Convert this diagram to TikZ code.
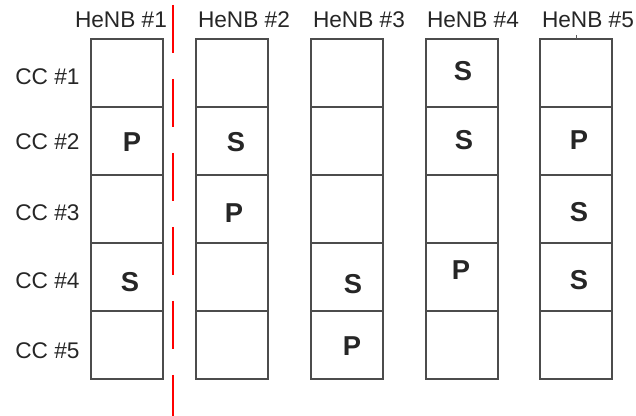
\documentclass[tikz,border=0pt]{standalone}
\usepackage{fontspec}
\setmainfont{Liberation Sans}
\usetikzlibrary{positioning}

\begin{document}
\begin{tikzpicture}[
  x=0.75pt, y=-0.75pt,
  cell/.style={
    rectangle, draw=black!70, line width=0.8pt, fill=white,
    minimum width=54pt, minimum height=51pt,
    inner sep=0pt, outer sep=0pt
  },
  head/.style={
    font=\fontsize{17}{19}\selectfont, text=black!85,
    inner sep=0pt
  },
  cclab/.style={
    font=\fontsize{17}{19}\selectfont, text=black!85,
    inner sep=0pt
  },
  ccmark/.style={
    font=\fontsize{20.5}{23}\selectfont\bfseries, text=black!85,
    inner sep=0pt
  },
  border/.style={
    draw=red, line width=2pt,
    dash pattern=on 36pt off 19.5pt
  },
]

  \useasboundingbox (0,0) rectangle (636,416);

  % -------------------------------------------------------
  %  Carrier grid, one column per HeNB
  % -------------------------------------------------------
  \foreach \c/\x in {1/127, 2/232, 3/347, 4/462, 5/576}
    \foreach \r in {1,...,5}
      \node[cell] (c\c r\r) at (\x, {5 + 68*\r}) {};

  % -------------------------------------------------------
  %  Column and row labels
  % -------------------------------------------------------
  \node[head] (h1) at (121, 20) {HeNB \#1};
  \node[head] (h2) at (244, 20) {HeNB \#2};
  \node[head] (h3) at (359, 20) {HeNB \#3};
  \node[head] (h4) at (473, 20) {HeNB \#4};
  \node[head] (h5) at (588, 20) {HeNB \#5};

  \node[cclab] (k1) at (47.5, 77)  {CC \#1};
  \node[cclab] (k2) at (47.5, 142) {CC \#2};
  \node[cclab] (k3) at (47.5, 213) {CC \#3};
  \node[cclab] (k4) at (47.5, 281) {CC \#4};
  \node[cclab] (k5) at (47.5, 351) {CC \#5};

  % -------------------------------------------------------
  %  Primary / secondary carriers
  % -------------------------------------------------------
  \node[ccmark] at (132, 142) {P};
  \node[ccmark] at (130, 282) {S};

  \node[ccmark] at (236, 142) {S};
  \node[ccmark] at (234, 213) {P};

  \node[ccmark] at (353, 284) {S};
  \node[ccmark] at (352, 346) {P};

  \node[ccmark] at (463, 71)  {S};
  \node[ccmark] at (464, 140) {S};
  \node[ccmark] at (461, 270) {P};

  \node[ccmark] at (579, 140) {P};
  \node[ccmark] at (579, 212) {S};
  \node[ccmark] at (579, 280) {S};

  % small tick on top of HeNB #5
  \coordinate (t5) at (576, 35);
  \draw[black!65, line width=0.6pt] (t5) -- (c5r1.north);

  % -------------------------------------------------------
  %  Boundary after HeNB #1  (dashed)
  % -------------------------------------------------------
  \coordinate (btop) at (173, 5);
  \coordinate (bbot) at (173, 416);
  \draw[border] (btop) -- (bbot);

\end{tikzpicture}
\end{document}
